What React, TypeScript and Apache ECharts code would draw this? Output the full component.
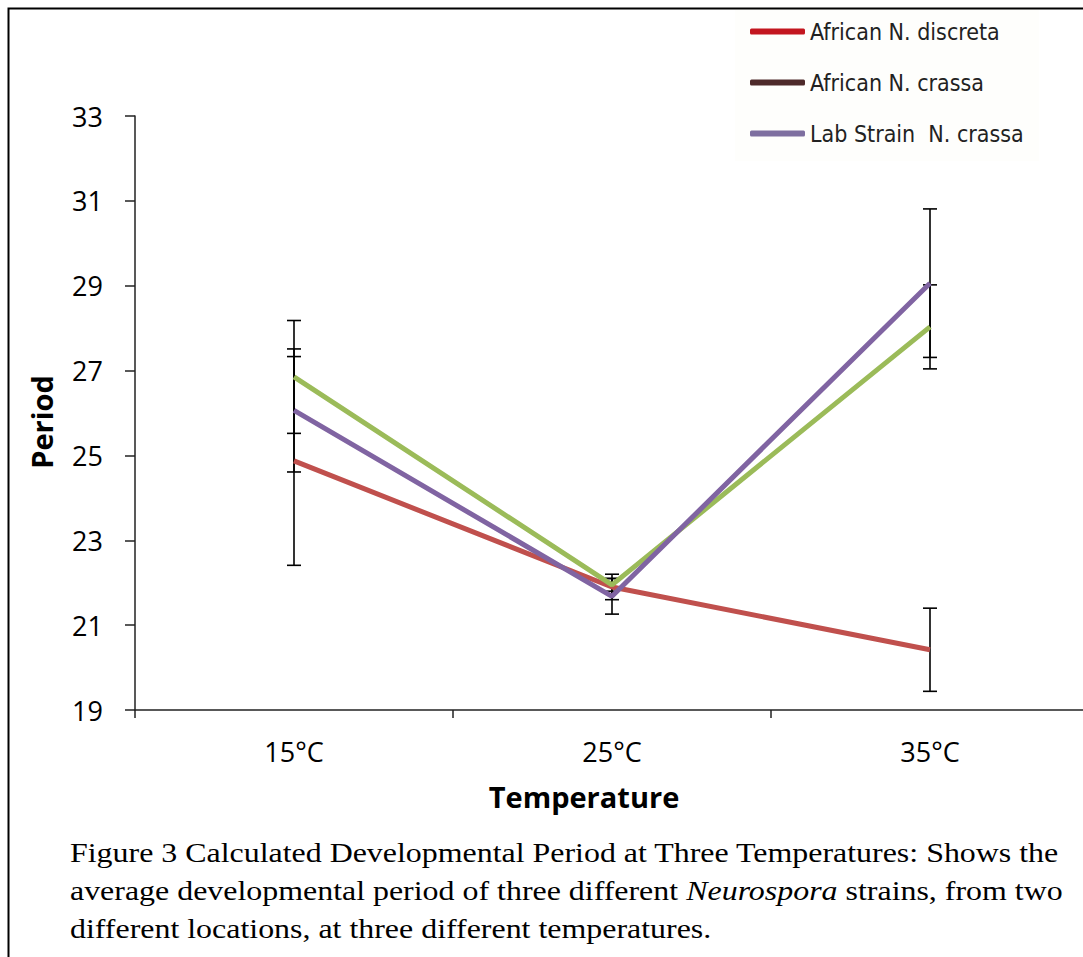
import React, { useEffect, useRef } from "react";
import * as echarts from "echarts";

const categories = ["15°C", "25°C", "35°C"];
const seriesNames = ["African N. discreta", "African N. crassa", "Lab Strain  N. crassa"];
const discreta = [24.87, 21.9, 20.42];
const africanCrassa = [26.85, 21.95, 28.03];
const labStrain = [26.06, 21.68, 29.06];
const discretaErr = [2.46, 0.3, 0.98];
const africanCrassaErr = [1.33, 0.15, 0.99];
const labStrainErr = [1.45, 0.42, 1.75];
const yTicks = [19, 21, 23, 25, 27, 29, 31, 33];

const lineColors = ["#C0504D", "#9BBB59", "#8064A2"];
const legendColors = ["#C3161F", "#4E2A2A", "#7E6FA0"];

function errData(vals: number[], errs: number[]) {
  return vals.map((v, i) => [i, v - errs[i], v + errs[i]]);
}

const renderErr = (params: any, api: any) => {
  const x = api.value(0);
  const lo = api.coord([x, api.value(1)]);
  const hi = api.coord([x, api.value(2)]);
  const cap = 7;
  const style = { stroke: "#000", lineWidth: 1.6 };
  return {
    type: "group",
    children: [
      { type: "line", shape: { x1: lo[0], y1: lo[1], x2: hi[0], y2: hi[1] }, style },
      { type: "line", shape: { x1: lo[0] - cap, y1: lo[1], x2: lo[0] + cap, y2: lo[1] }, style },
      { type: "line", shape: { x1: hi[0] - cap, y1: hi[1], x2: hi[0] + cap, y2: hi[1] }, style },
    ],
  };
};

export default function App() {
  const ref = useRef<HTMLDivElement>(null);
  useEffect(() => {
    if (!ref.current) return;
    const chart = echarts.init(ref.current, undefined, { renderer: "svg" });
    const values = [discreta, africanCrassa, labStrain];
    const errs = [discretaErr, africanCrassaErr, labStrainErr];
    const errSeries = values.map((v, i) => ({
      type: "custom",
      name: seriesNames[i] + " error",
      renderItem: renderErr,
      data: errData(v, errs[i]),
      z: 1,
      silent: true,
      encode: { x: 0, y: [1, 2] },
    }));
    const lineSeries = values.map((v, i) => ({
      type: "line",
      name: seriesNames[i],
      data: v,
      symbol: "none",
      z: 3,
      lineStyle: { color: lineColors[i], width: 5 },
      itemStyle: { color: lineColors[i] },
    }));
    chart.setOption({
      animation: false,
      backgroundColor: "#fff",
      grid: { left: 135, top: 116, width: 954, height: 594, containLabel: false },
      legend: {
        orient: "vertical",
        left: 735,
        top: 9,
        padding: [9, 15, 14, 15],
        backgroundColor: "#FEFEFC",
        icon: "roundRect",
        itemWidth: 55,
        itemHeight: 6,
        itemGap: 24,
        textStyle: { fontFamily: "DejaVu Sans Condensed", fontSize: 23, color: "#222", lineHeight: 27 },
        data: seriesNames.map((n, i) => ({ name: n, itemStyle: { color: legendColors[i] } })),
      },
      xAxis: {
        type: "category",
        data: categories,
        boundaryGap: true,
        axisLine: { lineStyle: { color: "#222", width: 1.5 } },
        axisTick: { show: true, length: 8, lineStyle: { color: "#222", width: 1.5 } },
        axisLabel: { fontFamily: "Open Sans", fontSize: 27, color: "#000", margin: 28 },
      },
      yAxis: {
        type: "value",
        min: yTicks[0],
        max: yTicks[yTicks.length - 1],
        interval: 2,
        splitLine: { show: false },
        axisLine: { show: true, lineStyle: { color: "#222", width: 1.5 } },
        axisTick: { show: true, length: 10, lineStyle: { color: "#222", width: 1.5 } },
        axisLabel: { fontFamily: "Open Sans", fontSize: 27, color: "#000", margin: 32 },
      },
      graphic: [
        {
          type: "rect",
          shape: { x: 8.5, y: 8.5, width: 1200, height: 1200 },
          style: { fill: "none", stroke: "#000", lineWidth: 2 },
          z: 100,
          silent: true,
        },
        {
          type: "text",
          x: 41,
          y: 422,
          rotation: Math.PI / 2,
          style: {
            text: "Period",
            fontFamily: "Open Sans",
            fontWeight: "bold",
            fontSize: 29,
            fill: "#000",
            align: "center",
            verticalAlign: "middle",
          },
        },
        {
          type: "text",
          x: 584,
          y: 796,
          style: {
            text: "Temperature",
            fontFamily: "Open Sans",
            fontWeight: "bold",
            fontSize: 29,
            fill: "#000",
            align: "center",
            verticalAlign: "middle",
          },
        },
        {
          type: "text",
          x: 70,
          y: 833,
          scaleX: 1.14,
          style: {
            text:
              "{n|Figure 3 Calculated Developmental Period at Three Temperatures: Shows the}\n" +
              "{n|average developmental period of three different }{i|Neurospora}{n| strains, from two}\n" +
              "{n|different locations, at three different temperatures.}",
            fill: "#000",
            rich: {
              n: { fontFamily: "Liberation Serif", fontSize: 28, lineHeight: 38, fill: "#000" },
              i: { fontFamily: "Liberation Serif", fontStyle: "italic", fontSize: 28, lineHeight: 38, fill: "#000" },
            },
          },
        },
      ],
      series: [...errSeries, ...lineSeries],
    });
    return () => chart.dispose();
  }, []);
  return (
    <div style={{ position: "absolute", left: 0, top: 0, width: 1083, height: 957, overflow: "hidden" }}>
      <div ref={ref} style={{ width: 1095, height: 957 }} />
    </div>
  );
}
